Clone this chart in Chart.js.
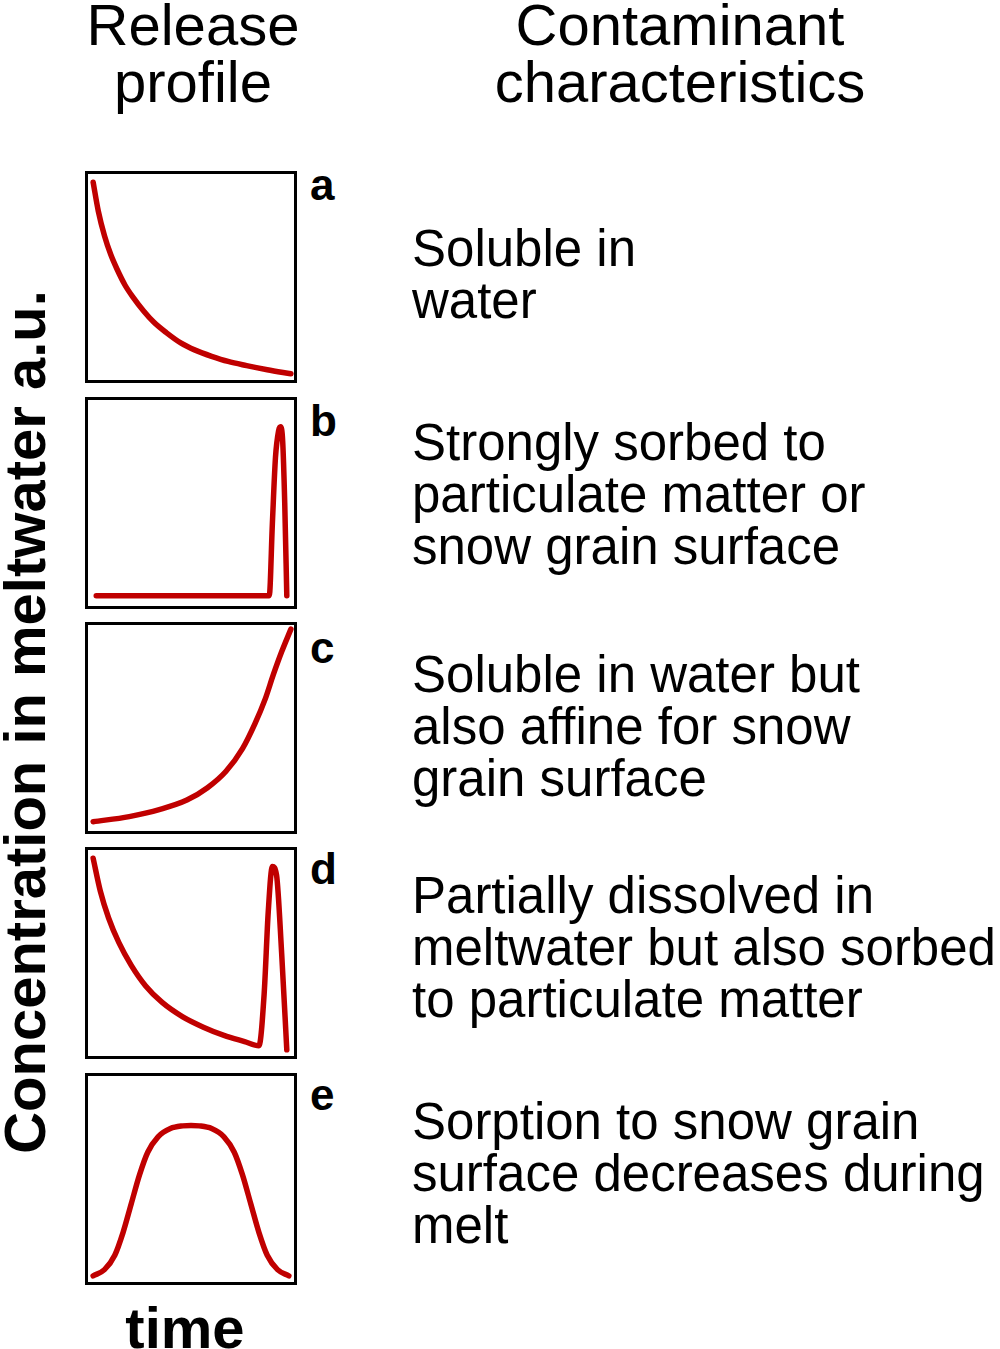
<!DOCTYPE html>
<html><head><meta charset="utf-8">
<script src="https://cdn.jsdelivr.net/npm/chart.js@4/dist/chart.umd.min.js"></script>
<style>
body{margin:0;width:1000px;height:1349px;background:#fff;position:relative;font-family:"Liberation Sans",Arial,sans-serif;overflow:hidden}
.t{position:absolute;white-space:nowrap;color:#000}
.box{position:absolute;left:85px;width:206px;height:206px;border:3px solid #000}
.box canvas{width:206px;height:206px}
.lab{position:absolute;left:310px;font-weight:bold;font-size:44px;line-height:50px}
.desc{position:absolute;left:412px;font-size:51px;line-height:52px}
</style></head><body>
<div class="t" style="left:193px;top:-4px;transform:translateX(-50%);font-size:58px;line-height:57px;text-align:center">Release<br>profile</div>
<div class="t" style="left:680px;top:-4px;transform:translateX(-50%);font-size:58px;line-height:57px;text-align:center">Contaminant<br>characteristics</div>
<div class="t" style="left:25px;top:722px;line-height:60px;transform:translate(-50%,-50%) rotate(-90deg);font-weight:bold;font-size:58px">Concentration in meltwater a.u.</div>
<div class="t" style="left:185px;top:1298px;line-height:60px;transform:translateX(-50%);font-weight:bold;font-size:58px">time</div>

<div class="box" style="top:171px"><canvas id="ca"></canvas></div>
<div class="box" style="top:397px"><canvas id="cb"></canvas></div>
<div class="box" style="top:622px"><canvas id="cc"></canvas></div>
<div class="box" style="top:847px"><canvas id="cd"></canvas></div>
<div class="box" style="top:1073px"><canvas id="ce"></canvas></div>

<div class="lab" style="top:160px">a</div>
<div class="lab" style="top:396px">b</div>
<div class="lab" style="top:623px">c</div>
<div class="lab" style="top:844px">d</div>
<div class="lab" style="top:1070px">e</div>

<div class="desc" style="top:223px">Soluble in<br>water</div>
<div class="desc" style="top:417px">Strongly sorbed to<br>particulate matter or<br>snow grain surface</div>
<div class="desc" style="top:649px">Soluble in water but<br>also affine for snow<br>grain surface</div>
<div class="desc" style="top:870px">Partially dissolved in<br>meltwater but also sorbed<br>to particulate matter</div>
<div class="desc" style="top:1096px">Sorption to snow grain<br>surface decreases during<br>melt</div>

<script>
const curveA=[{x:2.5,y:96},{x:5,y:82},{x:8,y:70},{x:11,y:61},{x:14,y:54},{x:18,y:46},{x:22,y:40},{x:27,y:33.5},{x:32,y:28},{x:38,y:23},{x:45,y:18},{x:52,y:14.5},{x:60,y:11.5},{x:68,y:9},{x:77,y:7},{x:87,y:5},{x:98.5,y:3}];
const curveB=[{x:4,y:5},{x:50,y:5},{x:88,y:5},{x:89.5,y:40},{x:91,y:72},{x:92.5,y:85},{x:93.5,y:87},{x:94.5,y:80},{x:95.5,y:50},{x:96.5,y:5}];
const curveC=[{x:2.5,y:4.5},{x:20,y:7},{x:35,y:10.5},{x:48,y:15},{x:58,y:21},{x:67,y:29},{x:75,y:40},{x:81,y:52},{x:86,y:64},{x:90,y:76},{x:94,y:87},{x:98.5,y:98}];
const curveD=[{x:2.5,y:96},{x:6,y:80},{x:10,y:67},{x:15,y:55},{x:21,y:44},{x:28,y:34},{x:36,y:26},{x:46,y:19},{x:56,y:14},{x:66,y:10},{x:76,y:7},{x:83,y:5},{x:85.5,y:30},{x:87.5,y:70},{x:89.5,y:92},{x:91.5,y:88},{x:94,y:50},{x:96.5,y:3}];
const curveE=[{x:2.5,y:3},{x:8,y:6},{x:13,y:13},{x:17,y:24},{x:21,y:38},{x:25,y:52},{x:29,y:63},{x:34,y:70.5},{x:40,y:74.5},{x:46,y:75.8},{x:50,y:76},{x:54,y:75.8},{x:60,y:74.5},{x:66,y:70.5},{x:71,y:63},{x:75,y:52},{x:79,y:38},{x:83,y:24},{x:87,y:13},{x:92,y:6},{x:97.5,y:3}];
function mk(id,data){
 new Chart(document.getElementById(id),{type:'line',
  data:{datasets:[{data:data,borderColor:'#c00000',borderWidth:5.5,pointRadius:0,tension:0.4,cubicInterpolationMode:'monotone',clip:false,borderCapStyle:'round',borderJoinStyle:'round'}]},
  options:{responsive:false,animation:false,events:[],layout:{padding:0},
   plugins:{legend:{display:false},tooltip:{enabled:false}},
   scales:{x:{type:'linear',min:0,max:100,display:false},y:{min:0,max:100,display:false}}}});
}
[['ca',curveA],['cb',curveB],['cc',curveC],['cd',curveD],['ce',curveE]].forEach(a=>{const c=document.getElementById(a[0]);c.width=206;c.height=206;mk(a[0],a[1]);});
</script>
</body></html>
